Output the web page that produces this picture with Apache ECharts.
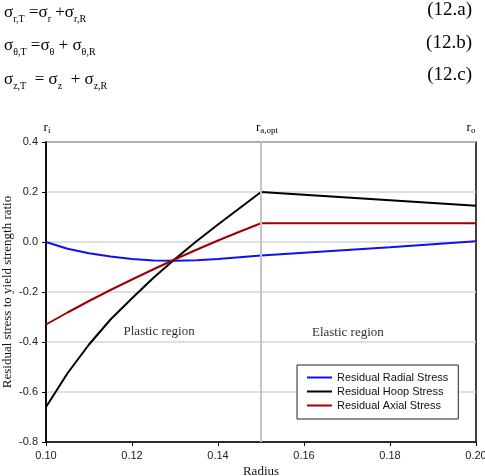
<!DOCTYPE html>
<html>
<head>
<meta charset="utf-8">
<script src="https://cdn.jsdelivr.net/npm/echarts@6/dist/echarts.min.js"></script>
<style>
  html, body { margin: 0; padding: 0; background: #fff; }
  #main { width: 485px; height: 476px; }
</style>
</head>
<body>
<div id="main"></div>
<script>
// values
var radius       = [0.100, 0.105, 0.110, 0.115, 0.120, 0.125, 0.130, 0.135, 0.140, 0.145, 0.150, 0.160, 0.170, 0.180, 0.190, 0.200];
var radialStress = [0.000, -0.027, -0.045, -0.058, -0.068, -0.074, -0.075, -0.073, -0.068, -0.061, -0.054, -0.043, -0.032, -0.021, -0.009, 0.003];
var hoopStress   = [-0.660, -0.525, -0.410, -0.310, -0.225, -0.143, -0.068, 0.003, 0.070, 0.135, 0.200, 0.189, 0.178, 0.167, 0.156, 0.145];
var axialStress  = [-0.330, -0.282, -0.236, -0.192, -0.150, -0.109, -0.069, -0.031, 0.006, 0.041, 0.075, 0.075, 0.075, 0.075, 0.075, 0.075];
var seriesNames  = ['Residual Radial Stress', 'Residual Hoop Stress', 'Residual Axial Stress'];
var seriesColors = ['#1010f0', '#000000', '#a00000'];
var rOpt = 0.15;
var regionLabels = [
    {text: 'Plastic region', at: [0.1263, -0.36]},
    {text: 'Elastic region', at: [0.1702, -0.364]}
];

var serif = '"Liberation Serif", "DejaVu Serif", serif';
var sans = '"Liberation Sans", Arial, sans-serif';

function pairs(ys) {
    var out = [];
    for (var i = 0; i < radius.length; i++) out.push([radius[i], ys[i]]);
    return out;
}

var chart = echarts.init(document.getElementById('main'));

var allData = [radialStress, hoopStress, axialStress];
var series = [];
for (var k = 0; k < 3; k++) {
    series.push({
        name: seriesNames[k],
        type: 'line',
        data: pairs(allData[k]),
        symbol: 'none',
        smooth: false,
        lineStyle: {color: seriesColors[k], width: 2},
        itemStyle: {color: seriesColors[k]},
        z: 3
    });
}
// the vertical line at r_a,opt
series.push({
    type: 'line',
    data: [],
    z: 1,
    markLine: {
        silent: true,
        symbol: 'none',
        label: {show: false},
        lineStyle: {color: '#c4c4c4', width: 2, type: 'solid'},
        data: [{xAxis: rOpt}]
    }
});

var option = {
    animation: false,
    grid: {
        left: 46, right: 9, top: 142, bottom: 34,
        outerBoundsMode: 'none',
        containLabel: false,
        show: true, borderColor: '#000', borderWidth: 1.5, backgroundColor: 'transparent'
    },
    legend: {
        data: seriesNames,
        orient: 'vertical',
        left: 297, top: 365,
        icon: 'rect',
        itemWidth: 25, itemHeight: 2, itemGap: 1,
        padding: [6, 10, 7, 10],
        borderColor: '#222', borderWidth: 1, backgroundColor: '#fff',
        textStyle: {fontFamily: sans, fontSize: 11, color: '#111', lineHeight: 13},
        selectedMode: false
    },
    xAxis: {
        type: 'value',
        min: 0.1, max: 0.2, interval: 0.02,
        name: 'Radius',
        nameLocation: 'middle',
        nameGap: 23,
        nameMoveOverlap: false,
        nameTextStyle: {fontFamily: serif, fontSize: 13, color: '#111'},
        axisLine: {show: true, onZero: false, lineStyle: {color: '#000', width: 1.5}},
        axisTick: {show: true, length: 4, lineStyle: {color: '#000'}},
        axisLabel: {
            margin: 8, fontFamily: sans, fontSize: 11, color: '#222',
            formatter: function (v) { return v.toFixed(2); }
        },
        splitLine: {show: false}
    },
    yAxis: {
        type: 'value',
        min: -0.8, max: 0.4, interval: 0.2,
        name: 'Residual stress to yield strength ratio',
        nameLocation: 'middle',
        nameGap: 32,
        nameMoveOverlap: false,
        nameTextStyle: {fontFamily: serif, fontSize: 13, color: '#111'},
        axisLine: {show: true, onZero: false, lineStyle: {color: '#000', width: 1.5}},
        axisTick: {show: true, length: 4, lineStyle: {color: '#000'}},
        axisLabel: {
            margin: 8, fontFamily: sans, fontSize: 11, color: '#222',
            formatter: function (v) { return v.toFixed(1); }
        },
        splitLine: {show: true, lineStyle: {color: '#d4d4d4', width: 1.5}}
    },
    series: series
};

chart.setOption(option);

// equations and labels
var eqRich = {
    m: {fontFamily: serif, fontSize: 17, color: '#000'},
    s: {fontFamily: serif, fontSize: 10, color: '#000', padding: [13, 0, 0, 0]}
};
var equations = [
    {text: '{m|σ}{s|r,T}{m| =σ}{s|r}{m| +σ}{s|r,R}', y: 16, num: '(12.a)', ny: 12},
    {text: '{m|σ}{s|θ,T}{m| =σ}{s|θ}{m| + σ}{s|θ,R}', y: 49, num: '(12.b)', ny: 45},
    {text: '{m|σ}{s|z,T}{m|  = σ}{s|z}{m|  + σ}{s|z,R}', y: 83, num: '(12.c)', ny: 77}
];

var rRich = {
    m: {fontFamily: serif, fontSize: 13, color: '#000'},
    s: {fontFamily: serif, fontSize: 9, color: '#000', padding: [6, 0, 0, 0]}
};

var graphic = [];
equations.forEach(function (e) {
    graphic.push({
        type: 'text', left: 4, top: e.y - 12, silent: true,
        style: {text: e.text, rich: eqRich}
    });
    graphic.push({
        type: 'text', right: 13, top: e.ny - 11, silent: true,
        style: {text: e.num, fontFamily: serif, fontSize: 19, fill: '#000'}
    });
});

var pLeft = chart.convertToPixel({gridIndex: 0}, [0.1, 0.4]);
var pMid = chart.convertToPixel({gridIndex: 0}, [rOpt, 0.4]);
var pRight = chart.convertToPixel({gridIndex: 0}, [0.2, 0.4]);
var topLabels = [
    {text: '{m|r}{s|i}', x: pLeft[0] + 1, align: 'center'},
    {text: '{m|r}{s|a,opt}', x: pMid[0] - 5, align: 'left'},
    {text: '{m|r}{s|o}', x: pRight[0] - 5, align: 'center'}
];
topLabels.forEach(function (t) {
    graphic.push({
        type: 'text', x: t.x, y: pLeft[1] - 14, silent: true,
        style: {text: t.text, rich: rRich, align: t.align, verticalAlign: 'middle'}
    });
});

regionLabels.forEach(function (r) {
    var p = chart.convertToPixel({gridIndex: 0}, r.at);
    graphic.push({
        type: 'text', x: p[0], y: p[1], silent: true,
        style: {text: r.text, fontFamily: serif, fontSize: 13, fill: '#333', align: 'center', verticalAlign: 'middle'}
    });
});

chart.setOption({graphic: graphic});
</script>
</body>
</html>
